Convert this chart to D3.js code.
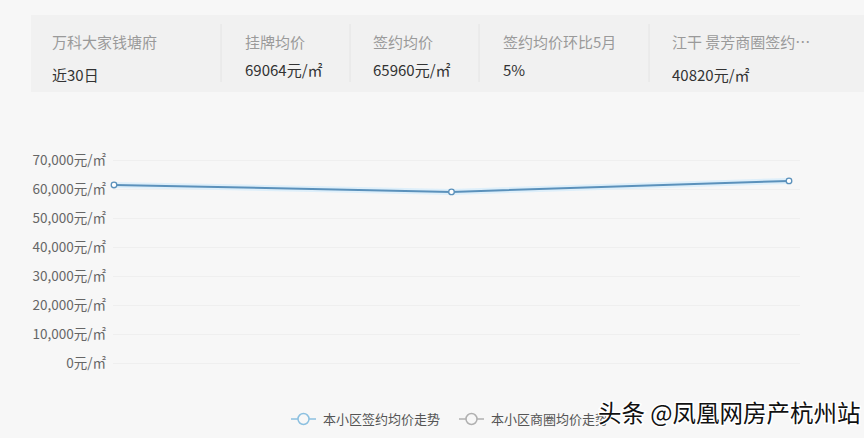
<!DOCTYPE html>
<html><head><meta charset="utf-8">
<script src="https://cdn.jsdelivr.net/npm/d3@7"></script>
<style>html,body{margin:0;padding:0;background:#f7f7f7;}svg{display:block;}</style>
</head><body>
<script>
const headerLabels = ["万科大家钱塘府","挂牌均价","签约均价","签约均价环比5月","江干 景芳商圈签约…"];
const headerValues = ["近30日","69064元/㎡","65960元/㎡","5%","40820元/㎡"];
const categories = ["4月","5月","6月"];
const seriesCommunity = [61400, 59000, 62800];
const yTicks = [0,10000,20000,30000,40000,50000,60000,70000];
const legendLabels = ["本小区签约均价走势","本小区商圈均价走势"];

const W=864,H=438;
const font='"Microsoft YaHei","Noto Sans CJK SC",sans-serif';
const svg=d3.select("body").append("svg").attr("width",W).attr("height",H);
svg.append("rect").attr("width",W).attr("height",H).attr("fill","#f7f7f7");

// header
svg.append("rect").attr("x",31).attr("y",15).attr("width",833).attr("height",77).attr("fill","#f1f1f1");
const colX=[52,245,373,503,672];
const sepX=[221,350,479,649];
svg.selectAll(".sep").data(sepX).enter().append("line")
 .attr("x1",d=>d).attr("x2",d=>d).attr("y1",24).attr("y2",82).attr("stroke","#e4e4e4");
svg.selectAll(".hl").data(headerLabels).enter().append("text")
 .attr("x",(d,i)=>colX[i]).attr("y",48).attr("font-family",font).attr("font-size",15)
 .attr("fill","#9a9a9a").text(d=>d);
svg.selectAll(".hv").data(headerValues).enter().append("text")
 .attr("x",(d,i)=>colX[i]).attr("y",(d,i)=>[81,76,76,76,81][i]).attr("font-family",font).attr("font-size",15)
 .attr("fill","#333").text(d=>d);

// chart
const x=d3.scalePoint().domain(categories).range([114,789]);
const y=d3.scaleLinear().domain([0,70000]).range([363,160]);
const fmt=d3.format(",");
const g=svg.append("g");
g.selectAll(".grid").data(yTicks).enter().append("line")
 .attr("x1",113).attr("x2",800).attr("y1",d=>y(d)+0.5).attr("y2",d=>y(d)+0.5)
 .attr("stroke","#efefef").attr("stroke-width",1);
const yAxis=d3.axisLeft(y).tickValues(yTicks).tickSize(0).tickPadding(0).tickFormat(d=>fmt(d)+"元/㎡");
const ya=g.append("g").attr("transform","translate(106,0)").call(yAxis);
ya.select(".domain").remove();
ya.selectAll("text").attr("font-family",font).attr("font-size",13.5).attr("fill","#666");

const line=d3.line().x((d,i)=>x(categories[i])).y(d=>y(d));
g.append("path").datum(seriesCommunity).attr("d",line).attr("fill","none")
 .attr("stroke","#deeffa").attr("stroke-width",6).attr("stroke-linejoin","round");
g.append("path").datum(seriesCommunity).attr("d",line).attr("fill","none")
 .attr("stroke","#5b91bb").attr("stroke-width",2);
g.selectAll(".pt").data(seriesCommunity).enter().append("circle")
 .attr("cx",(d,i)=>x(categories[i])).attr("cy",d=>y(d)).attr("r",2.8)
 .attr("fill","#fff").attr("stroke","#5b91bb").attr("stroke-width",1.3);

// legend
const legColors=["#8cc0e0","#b0b0b0"];
const legX=[291,459];
const lg=svg.selectAll(".leg").data(legendLabels).enter().append("g")
 .attr("transform",(d,i)=>`translate(${legX[i]},419)`);
lg.append("line").attr("x1",0).attr("x2",25).attr("stroke",(d,i)=>legColors[i]).attr("stroke-width",1.5);
lg.append("circle").attr("cx",12.5).attr("r",5.5).attr("fill","#f7f7f7").attr("stroke",(d,i)=>legColors[i]).attr("stroke-width",1.5);
lg.append("text").attr("x",32).attr("y",4.5).attr("font-family",font).attr("font-size",13).attr("fill","#555").text(d=>d);

// watermark
svg.append("text").attr("x",598).attr("y",422).attr("font-family",font).attr("font-size",23.5)
 .attr("fill","#111").attr("stroke","#fff").attr("stroke-width",3).attr("paint-order","stroke")
 .text("头条 @凤凰网房产杭州站");
</script>
</body></html>
